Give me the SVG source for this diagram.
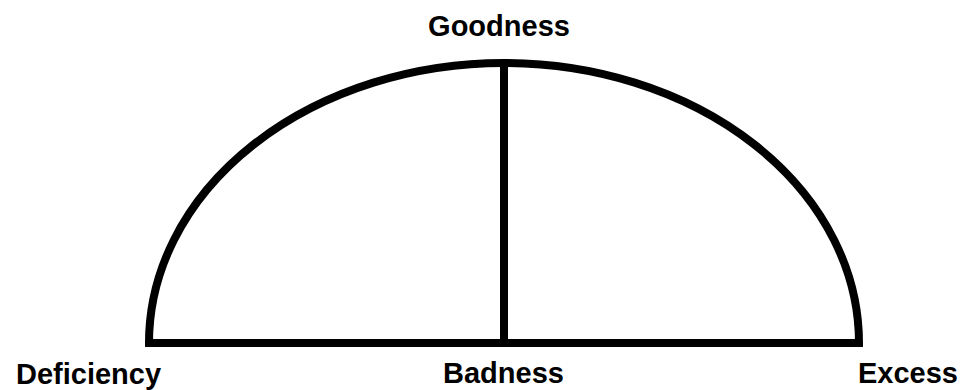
<svg xmlns="http://www.w3.org/2000/svg" width="962" height="390" viewBox="0 0 962 390">
  <style>
    .ln { fill: none; stroke: #000; stroke-width: 8; stroke-linejoin: miter; }
    .lbl { font-family: "Liberation Sans", Arial, sans-serif; font-weight: bold; font-size: 29px; fill: #000; }
  </style>
  <rect x="0" y="0" width="962" height="390" fill="#fff"/>
  <g id="connectors">
    <path class="ln" d="M149,343 A355,280 0 0 1 859,343 Z"/>
    <line class="ln" x1="504" y1="63" x2="504" y2="343"/>
  </g>
  <g id="goodness"><text class="lbl" x="499" y="36" text-anchor="middle">Goodness</text></g>
  <g id="deficiency"><text class="lbl" x="16" y="384">Deficiency</text></g>
  <g id="badness"><text class="lbl" x="503.5" y="383" text-anchor="middle">Badness</text></g>
  <g id="excess"><text class="lbl" x="958" y="383" text-anchor="end">Excess</text></g>
</svg>
